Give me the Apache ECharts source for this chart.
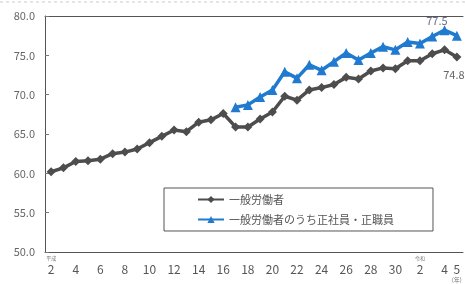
<!DOCTYPE html>
<html>
<head>
<meta charset="utf-8">
<script src="https://cdn.jsdelivr.net/npm/echarts@6/dist/echarts.min.js"></script>
<style>
  html,body{margin:0;padding:0;background:#fff;}
  #chart{width:465px;height:284px;}
</style>
</head>
<body>
<div id="chart"></div>
<script>
// 年（平成2年～令和5年）
var years=['H2','H3','H4','H5','H6','H7','H8','H9','H10','H11','H12','H13','H14','H15','H16','H17','H18','H19','H20','H21','H22','H23','H24','H25','H26','H27','H28','H29','H30','R1','R2','R3','R4','R5'];
// 表示する目盛ラベル
var shownLabels=['H2','H4','H6','H8','H10','H12','H14','H16','H18','H20','H22','H24','H26','H28','H30','R2','R4','R5'];
// 一般労働者
var ippan=[60.2,60.7,61.5,61.6,61.8,62.5,62.7,63.1,63.9,64.7,65.5,65.3,66.5,66.8,67.6,65.9,65.9,66.9,67.8,69.8,69.3,70.6,70.9,71.3,72.2,72.0,73.0,73.4,73.3,74.3,74.3,75.2,75.7,74.8];
// 一般労働者のうち正社員・正職員
var seishain=[null,null,null,null,null,null,null,null,null,null,null,null,null,null,null,68.4,68.7,69.7,70.6,72.9,72.1,73.8,73.1,74.2,75.3,74.4,75.3,76.1,75.7,76.7,76.5,77.4,78.2,77.5];

var fontJP='"Noto Sans CJK JP","Noto Sans",sans-serif';
var chart=echarts.init(document.getElementById('chart'));
var last=years.length-1;

var option={
  animation:false,
  textStyle:{fontFamily:fontJP},
  grid:{left:45,right:2,top:16,bottom:32},
  legend:{
    orient:'vertical',
    left:164,
    top:188,
    padding:[6,39,6,33],
    itemGap:9,
    itemWidth:26,
    itemHeight:9,
    borderColor:'#555',
    borderWidth:1,
    textStyle:{color:'#555',fontSize:11,fontFamily:fontJP},
    data:['一般労働者','一般労働者のうち正社員・正職員']
  },
  xAxis:[{
    type:'category',
    data:years,
    boundaryGap:true,
    axisLine:{lineStyle:{color:'#555',width:1}},
    axisTick:{inside:true,length:4,interval:0,lineStyle:{color:'#555'}},
    axisLabel:{
      interval:0,
      margin:3,
      color:'#555',
      formatter:function(v){
        if(shownLabels.indexOf(v)<0) return '';
        var n=v.slice(1);
        var era=' ';
        if(v==='H2') era='平成';
        if(v==='R2') era='令和';
        var s='{e|'+era+'}\n{n|'+n+'}';
        if(v==='R5') s+='\n{y|(年)}';
        return s;
      },
      rich:{
        e:{fontSize:5,lineHeight:7,color:'#777'},
        n:{fontSize:12,lineHeight:14,color:'#555'},
        y:{fontSize:6,lineHeight:8,color:'#777'}
      }
    }
  },{
    type:'category',
    position:'top',
    data:years,
    axisLine:{show:true,lineStyle:{color:'#555',width:1}},
    axisTick:{show:false},
    axisLabel:{show:false}
  }],
  yAxis:{
    type:'value',
    min:50,
    max:80,
    interval:5,
    splitLine:{show:false},
    axisLine:{show:true,lineStyle:{color:'#555',width:1}},
    axisTick:{show:true,inside:true,length:4,lineStyle:{color:'#777'}},
    axisLabel:{
      color:'#666',
      fontSize:11,
      margin:10,
      formatter:function(v){return v.toFixed(1);}
    }
  },
  series:[{
    name:'一般労働者',
    type:'line',
    data:ippan.map(function(v,i){
      if(i===last){
        return {value:v,label:{show:true,position:'bottom',distance:8,offset:[-3,0],color:'#666',fontSize:11,formatter:'{c}'}};
      }
      return v;
    }),
    symbol:'diamond',
    symbolSize:9,
    lineStyle:{color:'#4d4d4d',width:3.5},
    itemStyle:{color:'#4d4d4d'}
  },{
    name:'一般労働者のうち正社員・正職員',
    type:'line',
    data:seishain.map(function(v,i){
      if(i===last){
        return {value:v,label:{show:true,position:'top',distance:2,offset:[-20,-2],color:'#6b6f85',fontSize:11,formatter:'{c}'}};
      }
      return v;
    }),
    symbol:'triangle',
    symbolSize:10,
    lineStyle:{color:'#1f7ad0',width:3.5},
    itemStyle:{color:'#1f7ad0'}
  }],
  graphic:[{
    type:'line',
    shape:{x1:0,y1:2,x2:465,y2:2},
    style:{stroke:'#ccc',lineWidth:1,lineDash:[3,3]}
  }]
};
chart.setOption(option);
</script>
</body>
</html>
